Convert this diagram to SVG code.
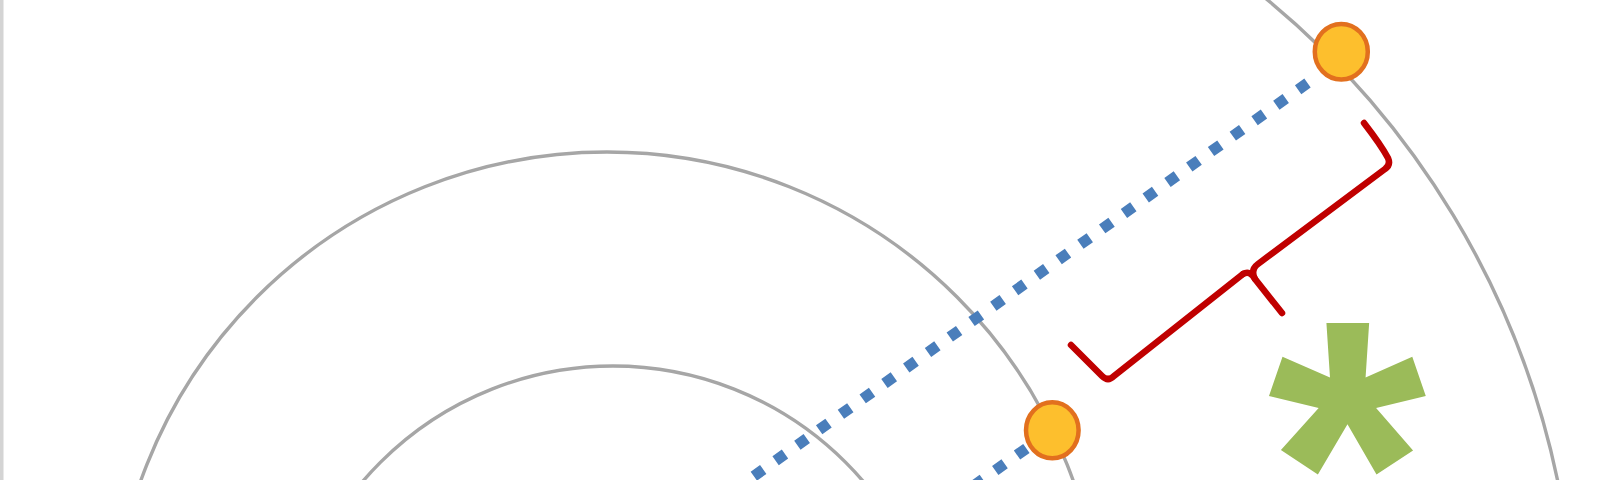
<svg xmlns="http://www.w3.org/2000/svg" width="1600" height="480" viewBox="0 0 1600 480">
<style>
.ring{fill:none;stroke:#a6a6a6;stroke-width:3.4}
.ray{fill:none;stroke:#4a7ebb;stroke-width:11;stroke-dasharray:11.5 15.2}
.pt{fill:#fdbf2d;stroke:#e2701e;stroke-width:4.5}
.brace{fill:none;stroke:#c00000;stroke-width:6.5;stroke-linecap:round;stroke-linejoin:round}
.star{fill:#9bbb59;font-weight:bold}
</style>
<rect x="0" y="0" width="1600" height="480" fill="#ffffff"/>
<rect x="0" y="0" width="3.5" height="480" fill="#d4d4d4"/>
<g id="rings">
<circle class="ring" cx="613" cy="695" r="329"/>
<circle class="ring" cx="607" cy="647" r="495"/>
<path class="ring" d="M1255.3,-10 A848.5,848.5 0 0 1 1560.5,495"/>
</g>
<g id="connectors">
<path class="ray" d="M1307.5,83.1 L727.3,495"/>
<path class="ray" d="M1026.4,448.4 L953.7,500"/>
</g>
<g id="point-outer">
<ellipse class="pt" cx="1341.3" cy="51.7" rx="26.5" ry="27.8"/>
</g>
<g id="point-inner">
<ellipse class="pt" cx="1052.3" cy="430.3" rx="26.3" ry="28"/>
</g>
<g id="brace">
<path class="brace" d="M1364,123 Q1381,145 1388,158 Q1391,165 1385,169 L1258,264 Q1250,270 1255,279 L1282,313"/>
<path class="brace" d="M1243,274 Q1250,270 1255,279"/>
<path class="brace" d="M1243,274 L1114,376 Q1108,382 1102,376 L1071,345"/>
</g>
<g id="asterisk">
<text class="star" x="1347" y="603" font-size="407" text-anchor="middle" font-family="Liberation Sans, Arial, sans-serif">*</text>
</g>
</svg>
